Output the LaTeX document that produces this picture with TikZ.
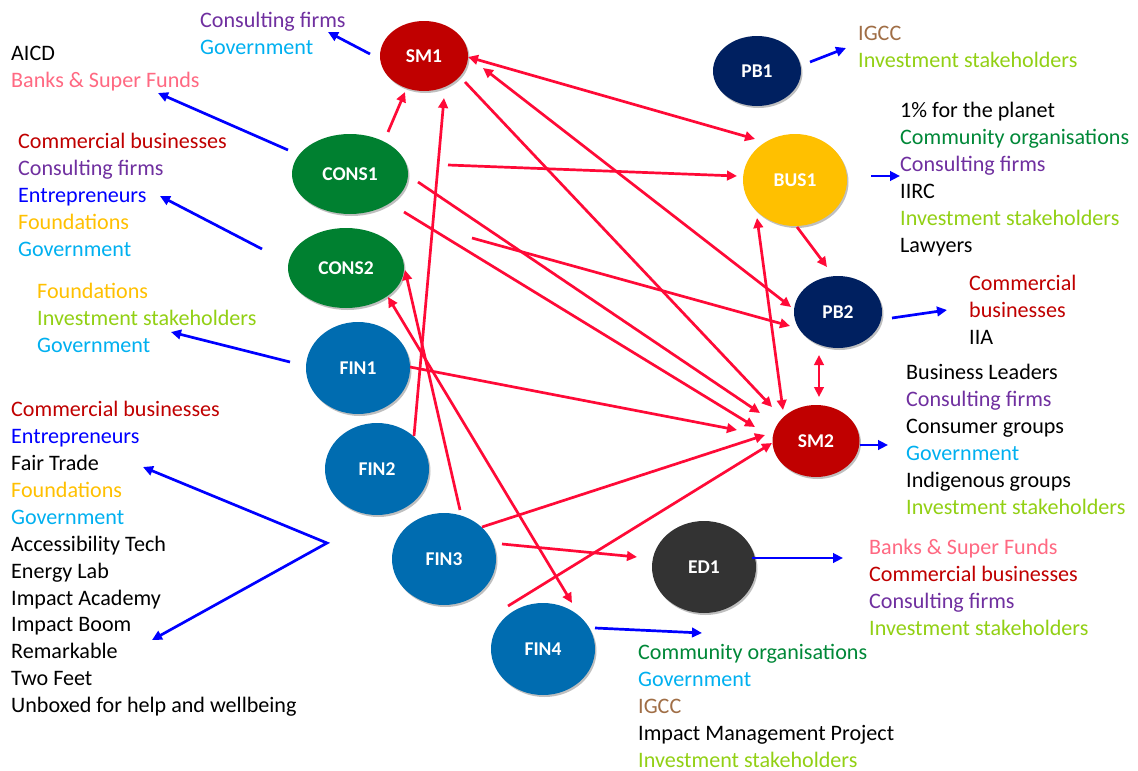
\documentclass[tikz,border=0pt]{standalone}
\usepackage{fontspec}
\setmainfont{Carlito}
\usetikzlibrary{arrows.meta,shapes.geometric,shadows}
\definecolor{smred}{RGB}{192,0,0}
\definecolor{pbnavy}{RGB}{0,32,96}
\definecolor{consgreen}{RGB}{0,128,48}
\definecolor{busyellow}{RGB}{255,192,0}
\definecolor{finblue}{RGB}{0,108,176}
\definecolor{edgray}{RGB}{51,51,51}
\definecolor{linkred}{RGB}{255,10,55}
\definecolor{linkblue}{RGB}{0,0,255}
\definecolor{tpurple}{RGB}{112,48,160}
\definecolor{tgov}{RGB}{0,176,240}
\definecolor{tpink}{RGB}{255,105,130}
\definecolor{tred}{RGB}{192,0,0}
\definecolor{tblue}{RGB}{0,0,255}
\definecolor{tyellow}{RGB}{255,192,0}
\definecolor{tinvest}{RGB}{146,208,20}
\definecolor{tcomm}{RGB}{0,136,56}
\definecolor{tbrown}{RGB}{160,110,70}
\newcommand{\Cf}{\textcolor{tpurple}{Consulting firms}}
\newcommand{\Gv}{\textcolor{tgov}{Government}}
\newcommand{\Bk}{\textcolor{tpink}{Banks \& Super Funds}}
\newcommand{\Cb}{\textcolor{tred}{Commercial businesses}}
\newcommand{\En}{\textcolor{tblue}{Entrepreneurs}}
\newcommand{\Fo}{\textcolor{tyellow}{Foundations}}
\newcommand{\Is}{\textcolor{tinvest}{Investment stakeholders}}
\newcommand{\Co}{\textcolor{tcomm}{Community organisations}}
\newcommand{\Ig}{\textcolor{tbrown}{IGCC}}
\begin{document}
\begin{tikzpicture}[x=1pt,y=-1pt,
  ell/.style={ellipse, inner sep=0pt, text=white,
    font=\fontsize{19.5}{21}\selectfont\bfseries,
    drop shadow={shadow xshift=1.5pt,shadow yshift=-2pt,opacity=.25,fill=black}},
  lst/.style={anchor=north west, inner sep=0pt, align=left,
    font=\fontsize{22.1}{26.9}\selectfont},
  rlink/.style={draw=linkred, line width=2.7pt, -{Triangle[length=10pt,width=9.5pt]}},
  rboth/.style={rlink, {Triangle[length=10pt,width=9.5pt]}-{Triangle[length=10pt,width=9.5pt]}},
  blink/.style={draw=linkblue, line width=2.7pt, -{Triangle[length=10pt,width=9.5pt]}}]
\fill[white] (0,0) rectangle (1138,771);
\useasboundingbox (0,0) rectangle (1138,771);

% ellipses
\node[ell, fill=smred, minimum width=88pt, minimum height=70pt] (SM1) at (424,56) {SM1};
\node[ell, fill=pbnavy, minimum width=88pt, minimum height=70pt] (PB1) at (757,71) {PB1};
\node[ell, fill=consgreen, minimum width=116pt, minimum height=80pt] (CONS1) at (350,174) {CONS1};
\node[ell, fill=consgreen, minimum width=116pt, minimum height=80pt] (CONS2) at (346,268) {CONS2};
\node[ell, fill=busyellow, minimum width=104pt, minimum height=92pt] (BUS1) at (795,180) {BUS1};
\node[ell, fill=pbnavy, minimum width=88pt, minimum height=72pt] (PB2) at (838,312) {PB2};
\node[ell, fill=smred, minimum width=87pt, minimum height=72pt] (SM2) at (816,441) {SM2};
\node[ell, fill=edgray, minimum width=104pt, minimum height=92pt] (ED1) at (704,567) {ED1};
\node[ell, fill=finblue, minimum width=104pt, minimum height=92pt] (FIN1) at (358,368) {FIN1};
\node[ell, fill=finblue, minimum width=104pt, minimum height=92pt] (FIN2) at (377,469) {FIN2};
\node[ell, fill=finblue, minimum width=104pt, minimum height=92pt] (FIN3) at (444,559) {FIN3};
\node[ell, fill=finblue, minimum width=104pt, minimum height=92pt] (FIN4) at (543,649) {FIN4};

% text lists
\node[lst] (L1) at (200,8.7) {\strut\Cf\\\Gv};
\node[lst] (L2) at (11,41.7) {\strut AICD\\\Bk};
\node[lst] (L3) at (18,129.7) {\strut\Cb\\\Cf\\\En\\\Fo\\\Gv};
\node[lst] (L4) at (37,279.7) {\strut\Fo\\\Is\\\Gv};
\node[lst] (L5) at (11,397.7) {\strut\Cb\\\En\\Fair Trade\\\Fo\\\Gv\\Accessibility Tech\\Energy Lab\\Impact Academy\\Impact Boom\\Remarkable\\Two Feet\\Unboxed for help and wellbeing};
\node[lst] (L6) at (858,21.7) {\strut\Ig\\\Is};
\node[lst] (L7) at (900,98.7) {\strut 1\% for the planet\\\Co\\\Cf\\IIRC\\\Is\\Lawyers};
\node[lst] (L8) at (969,271.7) {\strut\textcolor{tred}{Commercial}\\\textcolor{tred}{businesses}\\IIA};
\node[lst] (L9) at (906,360.7) {\strut Business Leaders\\\Cf\\Consumer groups\\\Gv\\Indigenous groups\\\Is};
\node[lst] (L10) at (869,535.7) {\strut\Bk\\\Cb\\\Cf\\\Is};
\node[lst] (L11) at (638,640.7) {\strut\Co\\\Gv\\\Ig\\Impact Management Project\\\Is};

% red links
\draw[rlink] ([shift={(38,-42)}]CONS1.center) -- ([shift={(-19,36)}]SM1.center);
\draw[rlink] ([shift={(37,-33)}]FIN2.center) -- ([shift={(20,42)}]SM1.center);
\draw[rboth] ([shift={(44,1)}]SM1.center) -- ([shift={(-40,-41)}]BUS1.center);
\draw[rlink] ([shift={(41,26)}]SM1.center) -- ([shift={(-44,-34)}]SM2.center);
\draw[rboth] ([shift={(59,12)}]SM1.center) -- ([shift={(-47,-5)}]PB2.center);
\draw[rlink] ([shift={(98,-9)}]CONS1.center) -- ([shift={(-58,-4)}]BUS1.center);
\draw[rlink] ([shift={(68,8)}]CONS1.center) -- ([shift={(-56,-28)}]SM2.center);
\draw[rlink] ([shift={(54,38)}]CONS1.center) -- ([shift={(-61,-14)}]SM2.center);
\draw[rlink] ([shift={(122,64)}]CONS1.center) -- ([shift={(-48,14)}]PB2.center);
\draw[rlink] ([shift={(52,-1)}]FIN1.center) -- ([shift={(-79,-11)}]SM2.center);
\draw[rlink] ([shift={(38,-32)}]FIN3.center) -- ([shift={(-51,-6)}]SM2.center);
\draw[rlink] ([shift={(-35,-43)}]FIN4.center) -- ([shift={(-44,2)}]SM2.center);
\draw[rlink] ([shift={(58,-15)}]FIN3.center) -- ([shift={(-67,-10)}]ED1.center);
\draw[rlink] ([shift={(16,-49)}]FIN3.center) -- ([shift={(59,2)}]CONS2.center);
\draw[rboth] ([shift={(42,29)}]CONS2.center) -- ([shift={(29,-46)}]FIN4.center);
\draw[rboth] ([shift={(-38,38)}]BUS1.center) -- ([shift={(-33,-31)}]SM2.center);
\draw[rlink] ([shift={(2,47)}]BUS1.center) -- ([shift={(-11,-45)}]PB2.center);
\draw[rboth] ([shift={(-19,43)}]PB2.center) -- ([shift={(3,-44)}]SM2.center);

% blue links
\coordinate (b1) at (328,32);
\coordinate (b2) at (158,93);
\coordinate (b3) at (160,196);
\coordinate (b4) at (171,332);
\coordinate (v) at (327,543);
\coordinate (va) at (143,467);
\coordinate (vb) at (152,640);
\coordinate (b6) at (846,48);
\coordinate (b7) at (900,176);
\coordinate (b8) at (947,310);
\coordinate (b9) at (888,445);
\coordinate (b10) at (843,558);
\coordinate (b11) at (702,633);
\draw[blink] ([shift={(-54,-2)}]SM1.center) -- (b1);
\draw[blink] ([shift={(-62,-24)}]CONS1.center) -- (b2);
\draw[blink] ([shift={(-84,-19)}]CONS2.center) -- (b3);
\draw[blink] ([shift={(-68,-6)}]FIN1.center) -- (b4);
\draw[blink, {Triangle[length=10pt,width=9.5pt]}-{Triangle[length=10pt,width=9.5pt]}] (va) -- (v) -- (vb);
\draw[blink] ([shift={(53,-9)}]PB1.center) -- (b6);
\draw[blink] ([shift={(76,-4)}]BUS1.center) -- (b7);
\draw[blink] ([shift={(54,6)}]PB2.center) -- (b8);
\draw[blink] ([shift={(44,4)}]SM2.center) -- (b9);
\draw[blink] ([shift={(48,-9)}]ED1.center) -- (b10);
\draw[blink] ([shift={(52,-21)}]FIN4.center) -- (b11);
\end{tikzpicture}
\end{document}
